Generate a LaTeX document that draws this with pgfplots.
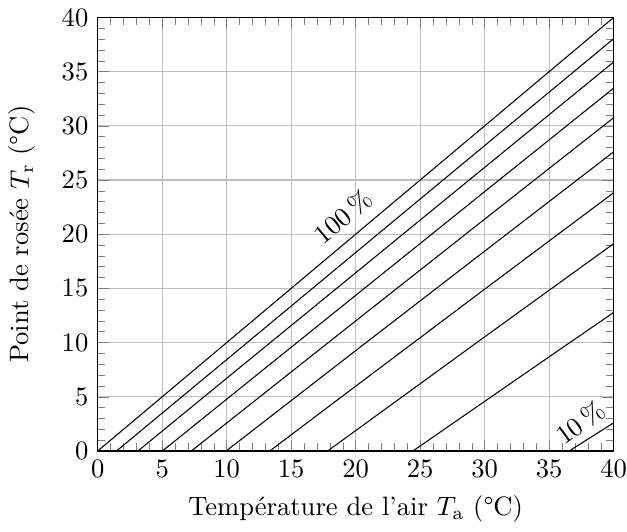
\documentclass[border=0pt]{standalone}
\usepackage{pgfplots}
\pgfplotsset{compat=1.18}

\begin{document}
\begin{tikzpicture}
\begin{axis}[
scale only axis,
width=194pt, height=163pt,
xmin=0, xmax=40, ymin=0, ymax=40,
xtick={0,5,...,40}, ytick={0,5,...,40},
minor tick num=4,
grid=major,
major grid style={gray!50},
xticklabel style={inner xsep=0pt},
xlabel={Température de l'air $T_\mathrm{a}$ (\textdegree{}C)},
ylabel={Point de rosée $T_\mathrm{r}$ (\textdegree{}C)},
ylabel shift=3pt,
cycle list={{black}},
every axis plot/.append style={black, solid, no marks, thin},
]
% 100 %
\addplot coordinates {(0,0) (40,40)};
% 90 %
\addplot coordinates {(1.46,0) (10,8.43) (20,18.31) (30,28.18) (40,38.04)};
% 80 %
\addplot coordinates {(3.12,0) (10,6.71) (20,16.44) (30,26.17) (40,35.89)};
% 70 %
\addplot coordinates {(5.02,0) (10,4.78) (20,14.36) (30,23.93) (40,33.48)};
% 60 %
\addplot coordinates {(7.26,0) (10,2.58) (20,12.00) (30,21.39) (40,30.75)};
% 50 %
\addplot coordinates {(9.96,0) (20,9.26) (30,18.44) (40,27.60)};
% 40 %
\addplot coordinates {(13.34,0) (20,5.98) (30,14.93) (40,23.83)};
% 30 %
\addplot coordinates {(17.83,0) (20,1.88) (30,10.53) (40,19.13)};
% 20 %
\addplot coordinates {(24.44,0) (30,4.58) (35,8.69) (40,12.78)};
% 10 %
\addplot coordinates {(36.55,0) (40,2.60)};
\node[rotate=40] at (axis cs:19.0,21.6) {100\,\%};
\node[rotate=36] at (axis cs:37.4,2.6) {10\,\%};
\end{axis}
\end{tikzpicture}
\end{document}
